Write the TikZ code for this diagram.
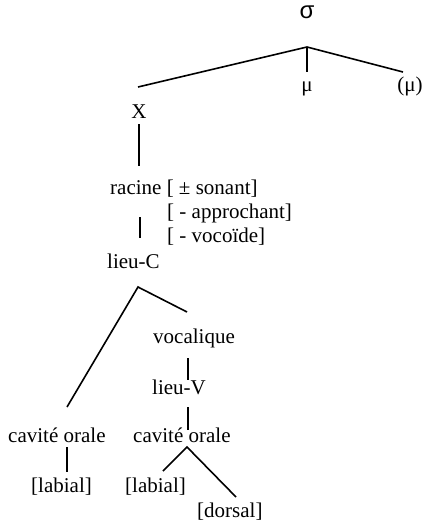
\documentclass[tikz,border=0pt]{standalone}
\usepackage{fontspec}
\setmainfont{Liberation Serif}
\newfontfamily\sigmafont{Liberation Sans}
\begin{document}
\begin{tikzpicture}[x=1pt,y=-1pt,
  lbl/.style={inner sep=0pt,anchor=base west,font=\fontsize{21}{25}\selectfont},
  lblc/.style={inner sep=0pt,anchor=base,font=\fontsize{21}{25}\selectfont},
  br/.style={line width=1.6pt}]
\useasboundingbox (0,0) rectangle (425,522);
% nodes
\node[lblc,font=\fontsize{24}{28}\selectfont\sigmafont] (sigma) at (307,19) {σ};
\node[lblc] (mu) at (307,91) {μ};
\node[lblc] (mu2) at (410,91) {(μ)};
\node[lblc] (X) at (139,118) {X};
\node[lbl] (racine) at (110,194) {racine [ ± sonant]};
\node[lbl] (appr) at (167,218) {[ - approchant]};
\node[lbl] (voco) at (167,242) {[ - vocoïde]};
\node[lbl] (lieuC) at (107,268) {lieu-C};
\node[lbl] (vocal) at (153,343) {vocalique};
\node[lbl] (lieuV) at (152,394) {lieu-V};
\node[lbl] (cav1) at (8,442) {cavité orale};
\node[lbl] (cav2) at (133,442) {cavité orale};
\node[lbl] (lab1) at (31,492) {[labial]};
\node[lbl] (lab2) at (125,492) {[labial]};
\node[lbl] (dors) at (197,517) {[dorsal]};
% connector points
\coordinate (sA) at (307,47);
\coordinate (sL) at (138,87);
\coordinate (sM) at (307,72);
\coordinate (sR) at (403,72);
\coordinate (xT) at (139,124);
\coordinate (xB) at (139,166);
\coordinate (rT) at (140,217);
\coordinate (rB) at (140,238);
\coordinate (cA) at (138,287);
\coordinate (cL) at (67,407);
\coordinate (cR) at (187,312);
\coordinate (vT) at (188,358);
\coordinate (vB) at (188,380);
\coordinate (lT) at (188,407);
\coordinate (lB) at (188,430);
\coordinate (oT) at (67,447);
\coordinate (oB) at (67,472);
\coordinate (pA) at (187,447);
\coordinate (pL) at (163,471);
\coordinate (pR) at (236,497);
% connectors
\draw[br] (sL) -- (sA) -- (sR);
\draw[br] (sA) -- (sM);
\draw[br] (xT) -- (xB);
\draw[br] (rT) -- (rB);
\draw[br] (cL) -- (cA) -- (cR);
\draw[br] (vT) -- (vB);
\draw[br] (lT) -- (lB);
\draw[br] (oT) -- (oB);
\draw[br] (pL) -- (pA) -- (pR);
\end{tikzpicture}
\end{document}
